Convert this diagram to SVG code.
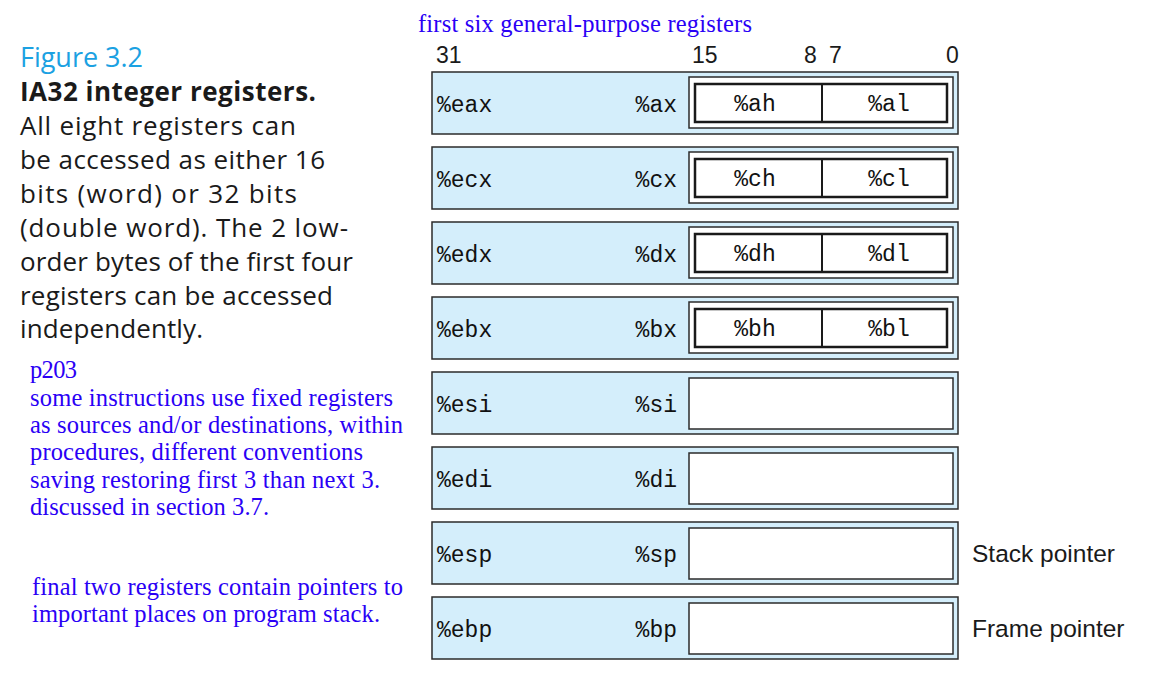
<svg xmlns="http://www.w3.org/2000/svg" width="1156" height="692" viewBox="0 0 1156 692">
<defs>
<style>
.reg{fill:#d4eefb;stroke:#2b2b2b;stroke-width:1.5}
.wb{fill:#ffffff;stroke:#2b2b2b;stroke-width:1.5}
.ib{fill:#ffffff;stroke:#1a1a1a;stroke-width:2.5}
.dv{stroke:#1a1a1a;stroke-width:2}
.mono{font-family:"Liberation Mono","DejaVu Sans Mono",monospace;font-size:23px;fill:#111}
.bits{font-family:"Liberation Sans",Arial,sans-serif;font-size:23px;fill:#1a1a1a}
.side{font-family:"Liberation Sans",Arial,sans-serif;font-size:24.5px;fill:#1a1a1a}
.cap{font-family:"Open Sans","Noto Sans",sans-serif;font-size:26px;fill:#1a1a1a}
.fig{font-family:"Open Sans","Noto Sans",sans-serif;font-size:27px;fill:#1ba1e2}
.note{font-family:"Liberation Serif","Times New Roman",serif;font-size:24.5px;fill:#2a00f5}
</style>
</defs>
<rect width="1156" height="692" fill="#ffffff"/>

<g id="caption">
<text class="fig" x="20" y="67" textLength="123">Figure 3.2</text>
<text class="cap" x="20" y="101" font-weight="bold" textLength="296">IA32 integer registers.</text>
<text class="cap" x="20" y="135" textLength="276">All eight registers can</text>
<text class="cap" x="20" y="169" textLength="305">be accessed as either 16</text>
<text class="cap" x="20" y="203" textLength="277">bits (word) or 32 bits</text>
<text class="cap" x="20" y="237" textLength="328">(double word). The 2 low-</text>
<text class="cap" x="20" y="271" textLength="333">order bytes of the first four</text>
<text class="cap" x="20" y="305" textLength="313">registers can be accessed</text>
<text class="cap" x="20" y="338" textLength="183">independently.</text>
</g>

<g id="notes">
<text class="note" x="418" y="32" textLength="334">first six general-purpose registers</text>
<text class="note" x="30" y="378" textLength="47">p203</text>
<text class="note" x="30" y="406" textLength="363">some instructions use fixed registers</text>
<text class="note" x="30" y="433" textLength="373">as sources and/or destinations, within</text>
<text class="note" x="30" y="460" textLength="333">procedures, different conventions</text>
<text class="note" x="30" y="488" textLength="350">saving restoring first 3 than next 3.</text>
<text class="note" x="30" y="515" textLength="239">discussed in section 3.7.</text>
<text class="note" x="32" y="595" textLength="371">final two registers contain pointers to</text>
<text class="note" x="32" y="622" textLength="348">important places on program stack.</text>
</g>

<g id="bit-labels">
<text class="bits" x="436" y="63">31</text>
<text class="bits" x="692" y="63">15</text>
<text class="bits" x="804" y="63">8</text>
<text class="bits" x="829" y="63">7</text>
<text class="bits" x="946" y="63">0</text>
</g>

<g id="reg-eax">
<rect class="reg" x="432" y="72" width="526" height="62"/>
<rect class="wb" x="689" y="77" width="264" height="51"/>
<rect class="ib" x="695" y="84" width="252" height="38"/>
<line class="dv" x1="822" y1="84" x2="822" y2="122"/>
<text class="mono" x="437" y="112">%eax</text>
<text class="mono" x="677" y="112" text-anchor="end">%ax</text>
<text class="mono" x="755" y="111" text-anchor="middle">%ah</text>
<text class="mono" x="889" y="111" text-anchor="middle">%al</text>
</g>

<g id="reg-ecx">
<rect class="reg" x="432" y="147" width="526" height="62"/>
<rect class="wb" x="689" y="152" width="264" height="51"/>
<rect class="ib" x="695" y="159" width="252" height="38"/>
<line class="dv" x1="822" y1="159" x2="822" y2="197"/>
<text class="mono" x="437" y="187">%ecx</text>
<text class="mono" x="677" y="187" text-anchor="end">%cx</text>
<text class="mono" x="755" y="186" text-anchor="middle">%ch</text>
<text class="mono" x="889" y="186" text-anchor="middle">%cl</text>
</g>

<g id="reg-edx">
<rect class="reg" x="432" y="222" width="526" height="62"/>
<rect class="wb" x="689" y="227" width="264" height="51"/>
<rect class="ib" x="695" y="234" width="252" height="38"/>
<line class="dv" x1="822" y1="234" x2="822" y2="272"/>
<text class="mono" x="437" y="262">%edx</text>
<text class="mono" x="677" y="262" text-anchor="end">%dx</text>
<text class="mono" x="755" y="261" text-anchor="middle">%dh</text>
<text class="mono" x="889" y="261" text-anchor="middle">%dl</text>
</g>

<g id="reg-ebx">
<rect class="reg" x="432" y="297" width="526" height="62"/>
<rect class="wb" x="689" y="302" width="264" height="51"/>
<rect class="ib" x="695" y="309" width="252" height="38"/>
<line class="dv" x1="822" y1="309" x2="822" y2="347"/>
<text class="mono" x="437" y="337">%ebx</text>
<text class="mono" x="677" y="337" text-anchor="end">%bx</text>
<text class="mono" x="755" y="336" text-anchor="middle">%bh</text>
<text class="mono" x="889" y="336" text-anchor="middle">%bl</text>
</g>

<g id="reg-esi">
<rect class="reg" x="432" y="372" width="526" height="62"/>
<rect class="wb" x="689" y="378" width="264" height="51"/>
<text class="mono" x="437" y="412">%esi</text>
<text class="mono" x="677" y="412" text-anchor="end">%si</text>
</g>

<g id="reg-edi">
<rect class="reg" x="432" y="447" width="526" height="62"/>
<rect class="wb" x="689" y="453" width="264" height="51"/>
<text class="mono" x="437" y="487">%edi</text>
<text class="mono" x="677" y="487" text-anchor="end">%di</text>
</g>

<g id="reg-esp">
<rect class="reg" x="432" y="522" width="526" height="62"/>
<rect class="wb" x="689" y="528" width="264" height="51"/>
<text class="mono" x="437" y="562">%esp</text>
<text class="mono" x="677" y="562" text-anchor="end">%sp</text>
<text class="side" x="972" y="562">Stack pointer</text>
</g>

<g id="reg-ebp">
<rect class="reg" x="432" y="597" width="526" height="62"/>
<rect class="wb" x="689" y="603" width="264" height="51"/>
<text class="mono" x="437" y="637">%ebp</text>
<text class="mono" x="677" y="637" text-anchor="end">%bp</text>
<text class="side" x="972" y="637">Frame pointer</text>
</g>

<g id="connectors"/>
</svg>
